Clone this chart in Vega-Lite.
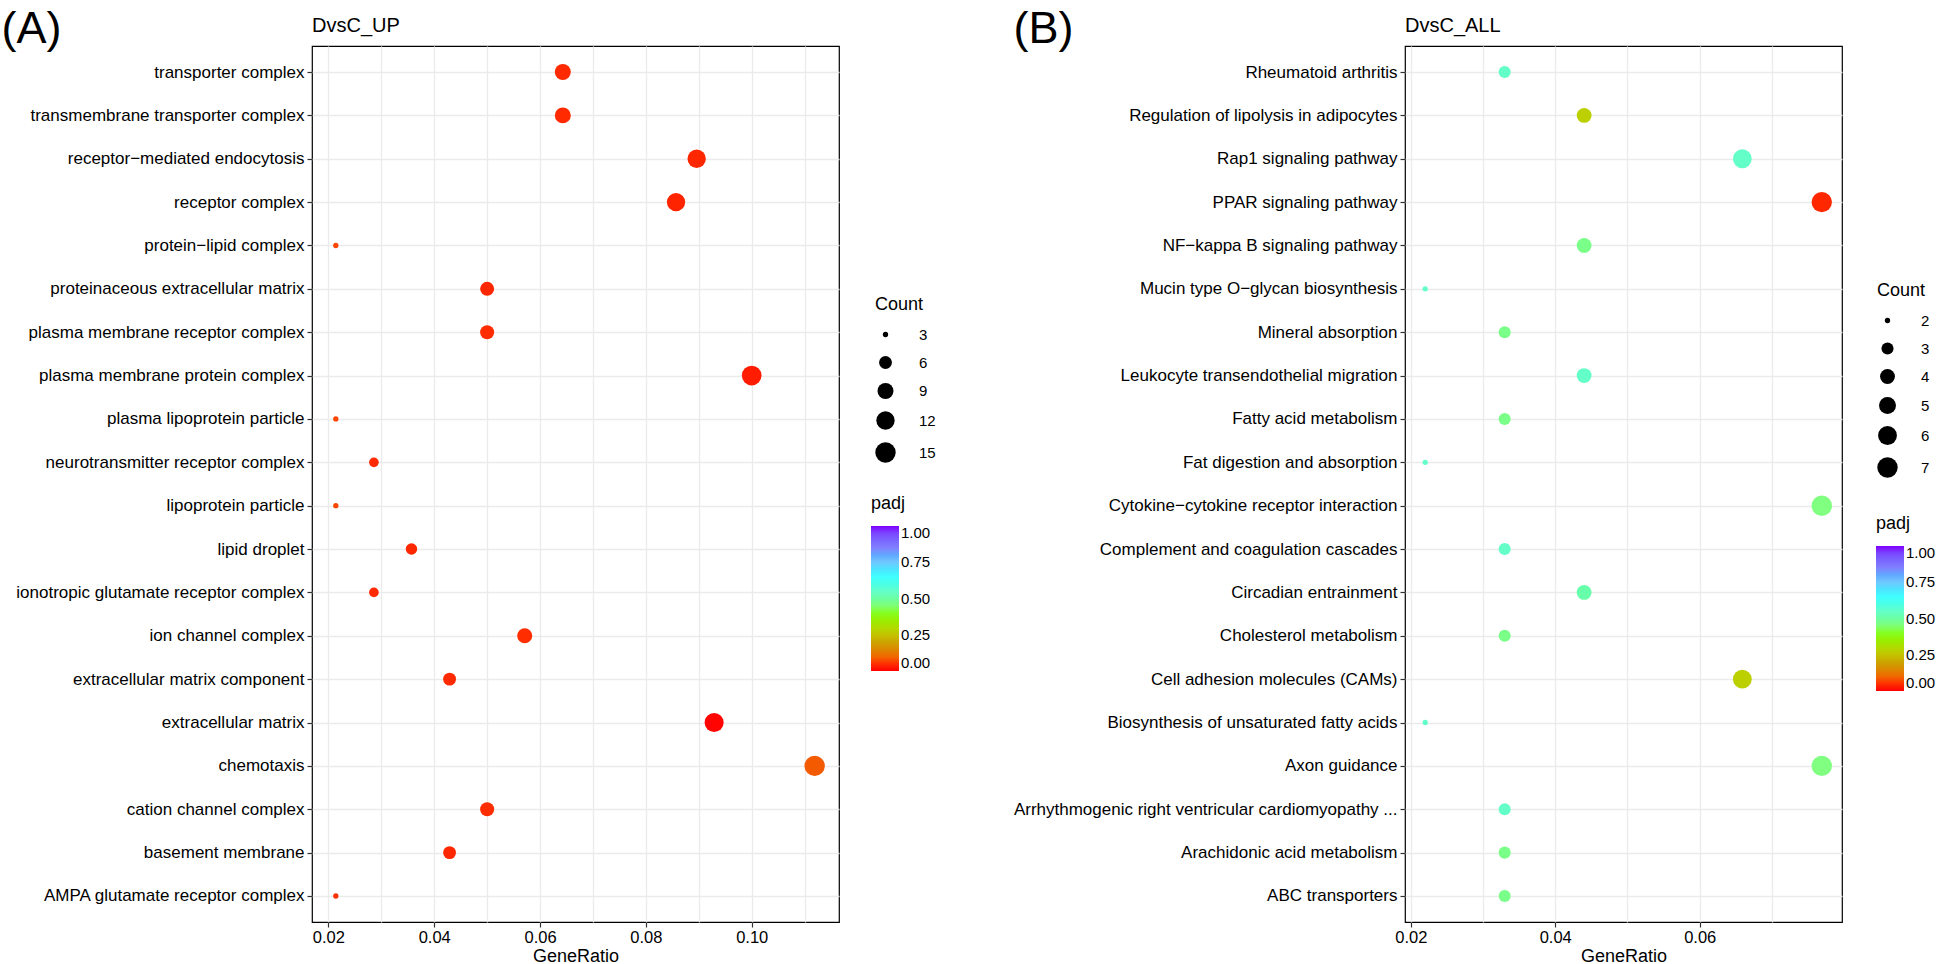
{
  "$schema": "https://vega.github.io/schema/vega-lite/v6.json",
  "background": "white",
  "padding": {"top": 5, "left": 0, "right": 0, "bottom": 0},
  "spacing": 75,
  "config": {
    "font": "Liberation Sans",
    "view": {"stroke": "black", "strokeWidth": 1.2},
    "axis": {
      "domain": false,
      "grid": true,
      "gridColor": "#EBEBEB",
      "gridWidth": 1.3,
      "labelColor": "black",
      "tickColor": "#333333",
      "tickSize": 5,
      "tickWidth": 1.2,
      "titleColor": "black",
      "titleFontWeight": "normal"
    },
    "legend": {
      "titleFontSize": 18,
      "titleFontWeight": "normal",
      "titleColor": "black",
      "labelFontSize": 15,
      "labelColor": "black",
      "padding": 0,
      "titlePadding": 13,
      "rowPadding": 12,
      "labelOffset": 14,
      "gradientLength": 145,
      "gradientThickness": 28,
      "gradientStrokeWidth": 0,
      "labelOverlap": false
    }
  },
  "datasets": {
    "up": [
      {"Description": "transporter complex", "GeneRatio": 0.0643, "Count": 9, "padj": 0.04},
      {"Description": "transmembrane transporter complex", "GeneRatio": 0.0643, "Count": 9, "padj": 0.04},
      {"Description": "receptor−mediated endocytosis", "GeneRatio": 0.0896, "Count": 12, "padj": 0.035},
      {"Description": "receptor complex", "GeneRatio": 0.0857, "Count": 12, "padj": 0.03},
      {"Description": "protein−lipid complex", "GeneRatio": 0.0214, "Count": 3, "padj": 0.065},
      {"Description": "proteinaceous extracellular matrix", "GeneRatio": 0.05, "Count": 7, "padj": 0.035},
      {"Description": "plasma membrane receptor complex", "GeneRatio": 0.05, "Count": 7, "padj": 0.042},
      {"Description": "plasma membrane protein complex", "GeneRatio": 0.1, "Count": 14, "padj": 0.02},
      {"Description": "plasma lipoprotein particle", "GeneRatio": 0.0214, "Count": 3, "padj": 0.065},
      {"Description": "neurotransmitter receptor complex", "GeneRatio": 0.0286, "Count": 4, "padj": 0.04},
      {"Description": "lipoprotein particle", "GeneRatio": 0.0214, "Count": 3, "padj": 0.065},
      {"Description": "lipid droplet", "GeneRatio": 0.0357, "Count": 5, "padj": 0.035},
      {"Description": "ionotropic glutamate receptor complex", "GeneRatio": 0.0286, "Count": 4, "padj": 0.04},
      {"Description": "ion channel complex", "GeneRatio": 0.0571, "Count": 8, "padj": 0.045},
      {"Description": "extracellular matrix component", "GeneRatio": 0.0429, "Count": 6, "padj": 0.04},
      {"Description": "extracellular matrix", "GeneRatio": 0.0929, "Count": 13, "padj": 0.002},
      {"Description": "chemotaxis", "GeneRatio": 0.1119, "Count": 15, "padj": 0.085},
      {"Description": "cation channel complex", "GeneRatio": 0.05, "Count": 7, "padj": 0.045},
      {"Description": "basement membrane", "GeneRatio": 0.0429, "Count": 6, "padj": 0.035},
      {"Description": "AMPA glutamate receptor complex", "GeneRatio": 0.0214, "Count": 3, "padj": 0.05}
    ],
    "all": [
      {"Description": "Rheumatoid arthritis", "GeneRatio": 0.033, "Count": 3, "padj": 0.55},
      {"Description": "Regulation of lipolysis in adipocytes", "GeneRatio": 0.044, "Count": 4, "padj": 0.27},
      {"Description": "Rap1 signaling pathway", "GeneRatio": 0.0659, "Count": 6, "padj": 0.55},
      {"Description": "PPAR signaling pathway", "GeneRatio": 0.0769, "Count": 7, "padj": 0.035},
      {"Description": "NF−kappa B signaling pathway", "GeneRatio": 0.044, "Count": 4, "padj": 0.47},
      {"Description": "Mucin type O−glycan biosynthesis", "GeneRatio": 0.022, "Count": 2, "padj": 0.55},
      {"Description": "Mineral absorption", "GeneRatio": 0.033, "Count": 3, "padj": 0.47},
      {"Description": "Leukocyte transendothelial migration", "GeneRatio": 0.044, "Count": 4, "padj": 0.55},
      {"Description": "Fatty acid metabolism", "GeneRatio": 0.033, "Count": 3, "padj": 0.47},
      {"Description": "Fat digestion and absorption", "GeneRatio": 0.022, "Count": 2, "padj": 0.55},
      {"Description": "Cytokine−cytokine receptor interaction", "GeneRatio": 0.0769, "Count": 7, "padj": 0.46},
      {"Description": "Complement and coagulation cascades", "GeneRatio": 0.033, "Count": 3, "padj": 0.55},
      {"Description": "Circadian entrainment", "GeneRatio": 0.044, "Count": 4, "padj": 0.51},
      {"Description": "Cholesterol metabolism", "GeneRatio": 0.033, "Count": 3, "padj": 0.47},
      {"Description": "Cell adhesion molecules (CAMs)", "GeneRatio": 0.0659, "Count": 6, "padj": 0.27},
      {"Description": "Biosynthesis of unsaturated fatty acids", "GeneRatio": 0.022, "Count": 2, "padj": 0.55},
      {"Description": "Axon guidance", "GeneRatio": 0.0769, "Count": 7, "padj": 0.46},
      {"Description": "Arrhythmogenic right ventricular cardiomyopathy ...", "GeneRatio": 0.033, "Count": 3, "padj": 0.55},
      {"Description": "Arachidonic acid metabolism", "GeneRatio": 0.033, "Count": 3, "padj": 0.47},
      {"Description": "ABC transporters", "GeneRatio": 0.033, "Count": 3, "padj": 0.47}
    ]
  },
  "hconcat": [
    {
      "width": 527,
      "height": 876,
      "data": {"name": "up"},
      "title": {"text": "DvsC_UP", "anchor": "start", "frame": "group", "fontSize": 20, "fontWeight": "normal", "color": "black", "offset": -46, "baseline": "alphabetic"},
      "mark": {"type": "circle", "opacity": 1},
      "encoding": {
        "x": {
          "field": "GeneRatio", "type": "quantitative",
          "scale": {"domain": [0.0169, 0.1165], "nice": false, "zero": false},
          "axis": {
            "title": "GeneRatio", "titleFontSize": 18, "titlePadding": 2,
            "labelFontSize": 16.5, "labelPadding": 2, "labelFlush": false, "labelOverlap": false,
            "values": [0.02, 0.03, 0.04, 0.05, 0.06, 0.07, 0.08, 0.09, 0.1, 0.11],
            "labelExpr": "round(datum.value*100) % 2 === 0 ? format(datum.value, '.2f') : ''",
            "tickOpacity": {"condition": {"test": "round(datum.value*100) % 2 === 0", "value": 1}, "value": 0}
          }
        },
        "y": {
          "field": "Description", "type": "nominal", "sort": null,
          "scale": {"type": "point", "padding": 0.6},
          "axis": {
            "labelFontSize": 17, "labelPadding": 3, "labelLimit": 600,
            "title": "(A)", "titleAngle": 0, "titleAlign": "left", "titleBaseline": "top",
            "titleX": -311, "titleY": -40, "titleFontSize": 45
          }
        },
        "size": {
          "field": "Count", "type": "quantitative",
          "scale": {"type": "linear", "zero": false, "domain": [3, 4, 5, 6, 7, 8, 9, 12, 13, 14, 15], "range": [28.3, 93.5, 131.5, 165.1, 196.6, 226.2, 255, 337.2, 363.7, 389.9, 415.5]},
          "legend": {"title": "Count", "values": [3, 6, 9, 12, 15], "orient": "none", "legendX": 563, "legendY": 250, "labelOffset": 23, "symbolType": "circle", "symbolFillColor": "black", "symbolStrokeColor": "black", "symbolStrokeWidth": 0, "symbolOpacity": 1}
        },
        "color": {
          "field": "padj", "type": "quantitative",
          "scale": {"type": "linear", "domain": [0, 0.05, 0.1, 0.15, 0.2, 0.27, 0.35, 0.4, 0.46, 0.55, 0.65, 0.75, 0.85, 1], "range": ["#FF0000", "#FF3000", "#F06800", "#DC8800", "#CCA400", "#BCD000", "#98EE00", "#84FF20", "#80FF80", "#64FFC8", "#40FFFF", "#70C8FF", "#8080FF", "#8000FF"]},
          "legend": {"title": "padj", "values": [0, 0.25, 0.5, 0.75, 1], "format": ".2f", "orient": "none", "legendX": 559, "legendY": 449}
        }
      }
    },
    {
      "width": 437,
      "height": 876,
      "data": {"name": "all"},
      "title": {"text": "DvsC_ALL", "anchor": "start", "frame": "group", "fontSize": 20, "fontWeight": "normal", "color": "black", "offset": -46, "baseline": "alphabetic"},
      "mark": {"type": "circle", "opacity": 1},
      "encoding": {
        "x": {
          "field": "GeneRatio", "type": "quantitative",
          "scale": {"domain": [0.0192, 0.0797], "nice": false, "zero": false},
          "axis": {
            "title": "GeneRatio", "titleFontSize": 18, "titlePadding": 2,
            "labelFontSize": 16.5, "labelPadding": 2, "labelFlush": false, "labelOverlap": false,
            "values": [0.02, 0.03, 0.04, 0.05, 0.06, 0.07],
            "labelExpr": "round(datum.value*100) % 2 === 0 ? format(datum.value, '.2f') : ''",
            "tickOpacity": {"condition": {"test": "round(datum.value*100) % 2 === 0", "value": 1}, "value": 0}
          }
        },
        "y": {
          "field": "Description", "type": "nominal", "sort": null,
          "scale": {"type": "point", "padding": 0.6},
          "axis": {
            "labelFontSize": 17, "labelPadding": 3, "labelLimit": 600,
            "title": "(B)", "titleAngle": 0, "titleAlign": "left", "titleBaseline": "top",
            "titleX": -392, "titleY": -40, "titleFontSize": 45
          }
        },
        "size": {
          "field": "Count", "type": "quantitative",
          "scale": {"type": "linear", "zero": false, "domain": [2, 3, 4, 5, 6, 7], "range": [28.3, 145.3, 220.3, 288.6, 353, 415.5]},
          "legend": {"title": "Count", "values": [2, 3, 4, 5, 6, 7], "orient": "none", "legendX": 472, "legendY": 236, "labelOffset": 23, "symbolType": "circle", "symbolFillColor": "black", "symbolStrokeColor": "black", "symbolStrokeWidth": 0, "symbolOpacity": 1}
        },
        "color": {
          "field": "padj", "type": "quantitative",
          "scale": {"type": "linear", "domain": [0, 0.05, 0.1, 0.15, 0.2, 0.27, 0.35, 0.4, 0.46, 0.55, 0.65, 0.75, 0.85, 1], "range": ["#FF0000", "#FF3000", "#F06800", "#DC8800", "#CCA400", "#BCD000", "#98EE00", "#84FF20", "#80FF80", "#64FFC8", "#40FFFF", "#70C8FF", "#8080FF", "#8000FF"]},
          "legend": {"title": "padj", "values": [0, 0.25, 0.5, 0.75, 1], "format": ".2f", "orient": "none", "legendX": 471, "legendY": 469}
        }
      }
    }
  ],
  "resolve": {
    "scale": {"x": "independent", "y": "independent", "size": "independent", "color": "independent"},
    "legend": {"size": "independent", "color": "independent"}
  }
}
